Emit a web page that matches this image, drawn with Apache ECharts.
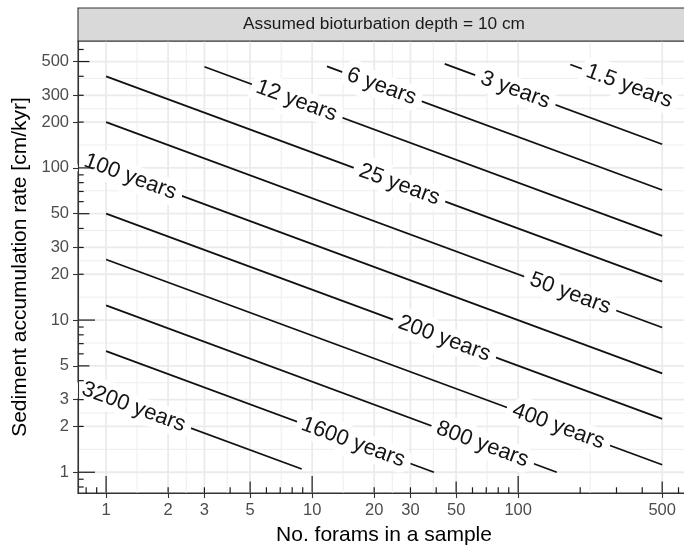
<!DOCTYPE html>
<html>
<head>
<meta charset="utf-8">
<script src="https://cdn.jsdelivr.net/npm/echarts@6/dist/echarts.min.js"></script>
<style>
  html, body { margin: 0; padding: 0; background: #ffffff; }
  #chart { width: 684px; height: 547px; }
</style>
</head>
<body>
<div id="chart"></div>
<script>
// Contour levels (years represented by one sample) and their labels
const contourLevels = [1.5625, 3.125, 6.25, 12.5, 25, 50, 100, 200, 400, 800, 1600, 3200];
const labelTexts = ['1.5 years', '3 years', '6 years', '12 years', '25 years', '50 years',
                    '100 years', '200 years', '400 years', '800 years', '1600 years', '3200 years'];

// End points of each contour line (No. forams, accumulation rate in cm/kyr)
const startN    = [179, 44, 11.8, 3, 1, 1, 1, 1, 1, 1, 1, 1];
const startRate = [478, 482, 465, 462, 400, 200, 100, 50, 25, 12.5, 6.25, 3.125];
const endN      = [500, 500, 500, 500, 500, 500, 500, 500, 500, 154, 39, 8.9];
const endRate   = [286, 143, 71.6, 35.8, 17.9, 8.94, 4.47, 2.24, 1.12, 1, 1, 1.05];

// Where each contour label sits on its line
const labelN    = [346, 96.8, 21.7, 8.4, 26.5, 179, 1.31, 43.8, 156.6, 67, 15.8, 1.36];
const labelRate = [344, 325, 343, 276, 77.7, 14.95, 87.4, 7.55, 2.0, 1.527, 1.572, 2.68];

// Axis breaks
const xBreaks = [1, 2, 3, 5, 10, 20, 30, 50, 100, 500];
const yBreaks = [1, 2, 3, 5, 10, 20, 30, 50, 100, 200, 300, 500];
const xMinorBreaks = [1.414, 2.449, 3.873, 7.071, 14.14, 24.49, 38.73, 70.71, 223.6];
const yMinorBreaks = [1.414, 2.449, 3.873, 7.071, 14.14, 24.49, 38.73, 70.71, 141.4, 244.9, 387.3];
const logTicks = [0.8, 0.9, 1, 2, 3, 4, 5, 6, 7, 8, 9, 10, 20, 30, 40, 50, 60, 70, 80, 90,
                  100, 200, 300, 400, 500, 600];
const axisLimits = [0.7305, 682.2];

const FONT = '"Liberation Sans", Arial, Helvetica, sans-serif';

const chart = echarts.init(document.getElementById('chart'), null, { renderer: 'canvas' });

// Background grid lines, drawn through the axes' log scales
function gridLineSeries(values, isX, width) {
  return {
    type: 'custom',
    coordinateSystem: 'cartesian2d',
    silent: true,
    z: 1,
    animation: false,
    data: values.map(v => isX ? [v, axisLimits[0]] : [axisLimits[0], v]),
    renderItem: function (params, api) {
      const v = api.value(isX ? 0 : 1);
      const a = isX ? api.coord([v, axisLimits[0]]) : api.coord([axisLimits[0], v]);
      const b = isX ? api.coord([v, axisLimits[1]]) : api.coord([axisLimits[1], v]);
      return {
        type: 'line',
        shape: { x1: a[0], y1: a[1], x2: b[0], y2: b[1] },
        style: { stroke: '#EBEBEB', lineWidth: width }
      };
    }
  };
}

// Log ticks inside the panel: long at decades, medium at 5s, short elsewhere
function logTickSeries(isX) {
  return {
    type: 'custom',
    coordinateSystem: 'cartesian2d',
    silent: true,
    z: 5,
    animation: false,
    data: logTicks.map(v => isX ? [v, axisLimits[0]] : [axisLimits[0], v]),
    renderItem: function (params, api) {
      const v = api.value(isX ? 0 : 1);
      const lead = Math.round(v / Math.pow(10, Math.floor(Math.log10(v) + 1e-9)));
      const len = lead === 1 ? 17 : (lead === 5 ? 11.4 : 5.7);
      const p = isX ? api.coord([v, axisLimits[0]]) : api.coord([axisLimits[0], v]);
      const shape = isX
        ? { x1: p[0], y1: p[1], x2: p[0], y2: p[1] - len }
        : { x1: p[0], y1: p[1], x2: p[0] + len, y2: p[1] };
      return { type: 'line', shape: shape, style: { stroke: '#1a1a1a', lineWidth: 1.2 } };
    }
  };
}

const contourSeries = contourLevels.map((lvl, i) => ({
  type: 'line',
  name: labelTexts[i],
  data: [[startN[i], startRate[i]], [endN[i], endRate[i]]],
  showSymbol: false,
  symbol: 'none',
  silent: true,
  z: 2,
  animation: false,
  lineStyle: { color: '#111111', width: 1.8 }
}));

const labelSeries = {
  type: 'custom',
  coordinateSystem: 'cartesian2d',
  silent: true,
  z: 4,
  animation: false,
  data: labelN.map((n, i) => [n, labelRate[i], i]),
  renderItem: function (params, api) {
    const i = api.value(2);
    const p = api.coord([api.value(0), api.value(1)]);
    const a = api.coord([startN[i], startRate[i]]);
    const b = api.coord([endN[i], endRate[i]]);
    const angle = Math.atan2(b[1] - a[1], b[0] - a[0]);
    return {
      type: 'text',
      x: p[0],
      y: p[1],
      rotation: -angle,
      style: {
        text: labelTexts[i],
        x: 0, y: 0,
        font: '22px ' + FONT,
        fill: '#141414',
        align: 'center', verticalAlign: 'middle',
        textAlign: 'center', textVerticalAlign: 'middle',
        stroke: '#ffffff', lineWidth: 14, lineJoin: 'round'
      }
    };
  }
};

const option = {
  animation: false,
  backgroundColor: '#ffffff',
  grid: {
    left: 78, top: 41, width: 612, height: 452,
    outerBoundsMode: 'none',
    containLabel: false,
    show: true, borderColor: '#333333', borderWidth: 1.1, backgroundColor: '#ffffff'
  },
  xAxis: {
    type: 'log', logBase: 10,
    min: axisLimits[0], max: axisLimits[1],
    z: 6,
    axisLine: { show: true, onZero: false, lineStyle: { color: '#333333', width: 1.1 } },
    axisTick: { show: true, customValues: xBreaks, length: 5, lineStyle: { color: '#333333', width: 1.1 } },
    axisLabel: { customValues: xBreaks, color: '#4D4D4D', fontSize: 16.5, fontFamily: FONT, margin: 9 },
    splitLine: { show: false },
    minorTick: { show: false },
    minorSplitLine: { show: false },
    name: 'No. forams in a sample',
    nameLocation: 'middle',
    nameGap: 32,
    nameTextStyle: { color: '#000000', fontSize: 21, fontFamily: FONT }
  },
  yAxis: {
    type: 'log', logBase: 10,
    min: axisLimits[0], max: axisLimits[1],
    z: 6,
    axisLine: { show: true, onZero: false, lineStyle: { color: '#333333', width: 1.1 } },
    axisTick: { show: true, customValues: yBreaks, length: 5, lineStyle: { color: '#333333', width: 1.1 } },
    axisLabel: { customValues: yBreaks, color: '#4D4D4D', fontSize: 16.5, fontFamily: FONT, margin: 9 },
    splitLine: { show: false },
    minorTick: { show: false },
    minorSplitLine: { show: false },
    name: 'Sediment accumulation rate [cm/kyr]',
    nameLocation: 'middle',
    nameRotate: 90,
    nameGap: 40,
    nameTextStyle: { color: '#000000', fontSize: 21, fontFamily: FONT }
  },
  graphic: [
    {
      type: 'rect',
      z: 10,
      shape: { x: 78, y: 8, width: 640, height: 33 },
      style: { fill: '#D9D9D9', stroke: '#333333', lineWidth: 1.1 }
    },
    {
      type: 'text',
      z: 11,
      x: 384, y: 24.5,
      style: {
        text: 'Assumed bioturbation depth = 10 cm',
        font: '17.3px ' + FONT,
        fill: '#1a1a1a',
        align: 'center', verticalAlign: 'middle',
        textAlign: 'center', textVerticalAlign: 'middle'
      }
    }
  ],
  series: [
    gridLineSeries(xMinorBreaks, true, 0.9),
    gridLineSeries(yMinorBreaks, false, 0.9),
    gridLineSeries(xBreaks, true, 1.8),
    gridLineSeries(yBreaks, false, 1.8),
    ...contourSeries,
    labelSeries,
    logTickSeries(true),
    logTickSeries(false)
  ]
};

chart.setOption(option);
</script>
</body>
</html>
